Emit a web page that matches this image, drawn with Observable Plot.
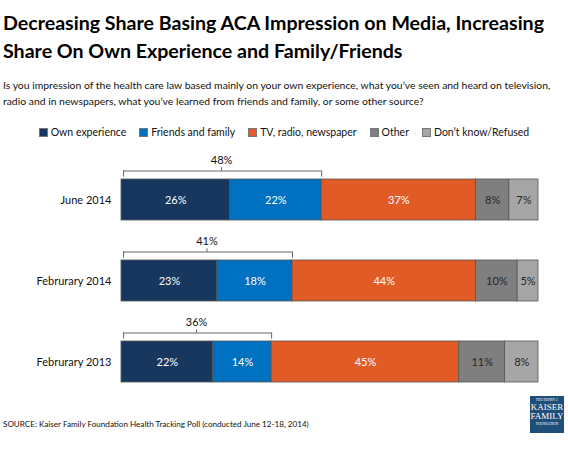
<!DOCTYPE html>
<html>
<head>
<meta charset="utf-8">
<script src="https://cdn.jsdelivr.net/npm/d3@7"></script>
<script src="https://cdn.jsdelivr.net/npm/@observablehq/plot@0.6"></script>
<style>
  body { margin:0; width:568px; height:452px; position:relative; background:#fff; font-family: Lato, "Open Sans", sans-serif; color:#000; overflow:hidden; }
  #title { position:absolute; left:3px; top:9px; font-weight:bold; font-size:19.6px; line-height:28px; white-space:nowrap; }
  #sub { position:absolute; left:3px; top:77px; font-size:10.4px; line-height:16px; white-space:nowrap; color:#111; }
  #legend { position:absolute; top:125px; left:0; width:568px; display:flex; justify-content:center; font-size:10.5px; line-height:14px; color:#111; }
  #legend .item { display:flex; align-items:center; margin:0 6.5px; }
  #legend .sw { width:7px; height:7px; margin-right:3px; border:0.5px solid #777; }
  #chart { position:absolute; left:0; top:138px; }
  #source { position:absolute; left:3px; top:419px; font-size:8.1px; color:#111; white-space:nowrap; }
  #logo { position:absolute; left:530px; top:396px; width:34px; height:37px; background:#1F4E79; color:#fff; font-family:"Liberation Serif", serif; text-align:center; }
</style>
</head>
<body>
<div id="title">Decreasing Share Basing ACA Impression on Media, Increasing<br>Share On Own Experience and Family/Friends</div>
<div id="sub">Is you impression of the health care law based mainly on your own experience, what you’ve seen and heard on television,<br>radio and in newspapers, what you’ve learned from friends and family, or some other source?</div>
<div id="legend"></div>
<div id="chart"></div>
<div id="source">SOURCE: Kaiser Family Foundation Health Tracking Poll (conducted June 12-18, 2014)</div>
<div id="logo">
  <div style="font-size:3.5px;line-height:5px;padding-top:2px">THE HENRY J.</div>
  <div style="font-size:9px;line-height:9px">KAISER</div>
  <div style="font-size:9px;line-height:9px">FAMILY</div>
  <div style="font-size:3.5px;line-height:6px">FOUNDATION</div>
</div>
<script>
const periods = ["June 2014", "Februrary 2014", "Februrary 2013"];
const sources = ["Own experience", "Friends and family", "TV, radio, newspaper", "Other", "Don’t know/Refused"];
const ownExperience = [26, 23, 22];
const friendsFamily = [22, 18, 14];
const tvRadioNewspaper = [37, 44, 45];
const other = [8, 10, 11];
const dontKnow = [7, 5, 8];
const combinedTotals = [48, 41, 36];
const colors = ["#17375E", "#0070C0", "#E15B26", "#7F7F7F", "#A6A6A6"];
const darkLabelSources = ["Other", "Don’t know/Refused"];

const seriesValues = [ownExperience, friendsFamily, tvRadioNewspaper, other, dontKnow];
const rows = [];
periods.forEach((p, i) => sources.forEach((s, j) => rows.push({period: p, source: s, value: seriesValues[j][i]})));
const brackets = periods.map((p, i) => ({period: p, total: combinedTotals[i]}));
const bracketEnds = brackets.flatMap(d => [{period: d.period, x: 0.5}, {period: d.period, x: d.total}]);

// legend
const leg = document.getElementById("legend");
sources.forEach((s, j) => {
  const it = document.createElement("div");
  it.className = "item";
  it.innerHTML = `<span class="sw" style="background:${colors[j]}"></span><span>${s}</span>`;
  leg.appendChild(it);
});

const stackOpts = {x: "value", y: "period", z: "source", order: sources};
const chart = Plot.plot({
  width: 568,
  height: 290,
  marginLeft: 121,
  marginRight: 30,
  marginTop: 0,
  marginBottom: 5,
  style: {fontFamily: "Lato, 'Open Sans', sans-serif", fontSize: "11px", color: "#111", background: "transparent"},
  x: {domain: [0, 100], axis: null},
  y: {domain: periods, padding: 0.5, label: null, tickSize: 0, tickPadding: 10},
  color: {domain: sources, range: colors},
  marks: [
    Plot.barX(rows, Plot.stackX({...stackOpts, fill: "source", stroke: "#555", strokeWidth: 0.8})),
    Plot.text(rows, Plot.filter(d => !darkLabelSources.includes(d.source), Plot.stackX({...stackOpts, text: d => d.value + "%", fill: "white"}))),
    Plot.text(rows, Plot.filter(d => darkLabelSources.includes(d.source), Plot.stackX({...stackOpts, text: d => d.value + "%", fill: "#262626"}))),
    Plot.ruleY(brackets, {y: "period", x1: 0.5, x2: "total", dy: -29, stroke: "#555", strokeWidth: 0.9}),
    Plot.tickX(bracketEnds, {x: "x", y: "period", dy: -26, insetTop: 17.35, insetBottom: 17.35, stroke: "#555", strokeWidth: 0.9}),
    Plot.tickX(brackets, {x: d => d.total / 2, y: "period", dy: -30.5, insetTop: 18.85, insetBottom: 18.85, stroke: "#555", strokeWidth: 0.9}),
    Plot.text(brackets, {x: d => d.total / 2, y: "period", text: d => d.total + "%", dy: -40, fill: "#111"})
  ]
});
document.getElementById("chart").appendChild(chart);
</script>
</body>
</html>
